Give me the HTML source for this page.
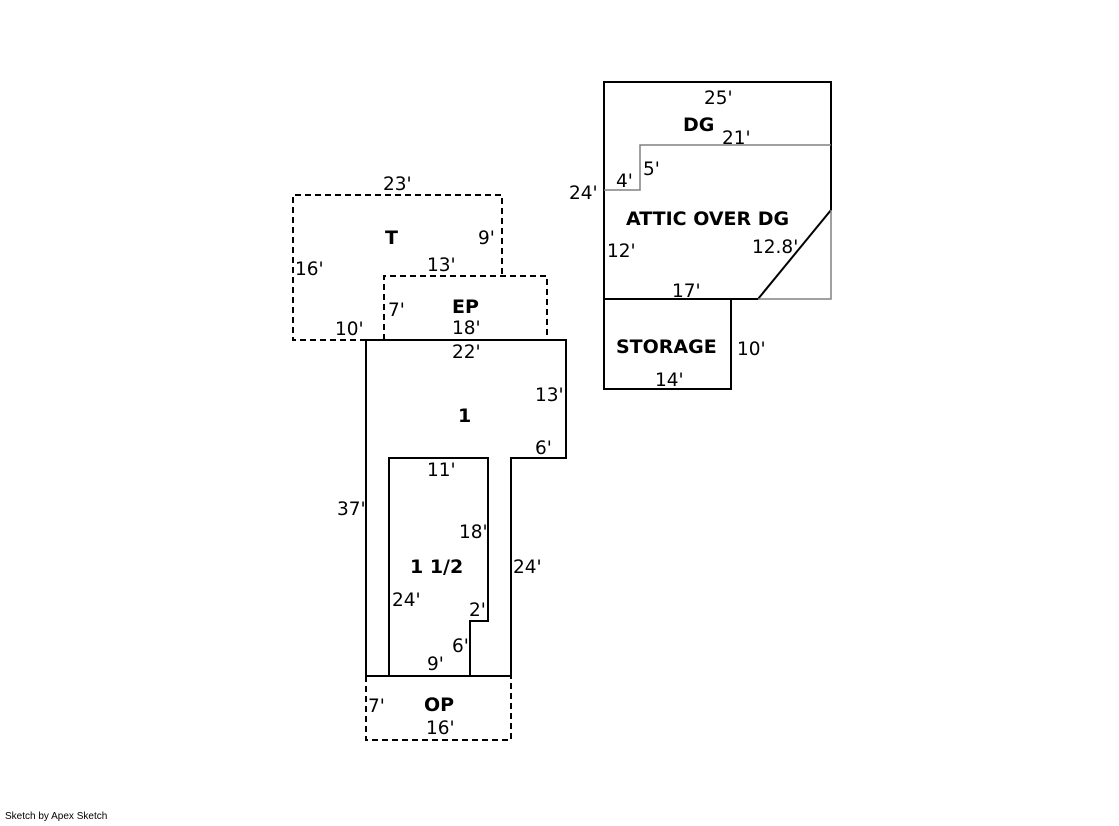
<!DOCTYPE html>
<html><head><style>
body{margin:0;background:#fff}
svg text{font-family:"DejaVu Sans",Verdana,sans-serif;font-size:18.5px;fill:#000}
svg text.b{font-weight:bold;font-size:19px}
</style></head><body>
<svg width="1119" height="821" xmlns="http://www.w3.org/2000/svg">
<g fill="none" stroke="#000" stroke-width="2">
<path d="M366 340H293V195H502V276" stroke-dasharray="6,4"/>
<path d="M384 340V276H547V340" stroke-dasharray="6,4"/>
<path d="M366 676V740H511V676" stroke-dasharray="6,4"/>
<path d="M366 340H566V458H511V676H366Z"/>
<path d="M389 676V458H488V621H470V676"/>
<path d="M604 299V82H831V210L758 299H604"/>
<path d="M604 299V389H731V299"/>
</g>
<g fill="none" stroke="#808080" stroke-width="1.5">
<path d="M604 190H640V145H831"/>
<path d="M831 210V299H758"/>
</g>
<text x="383" y="190">23'</text>
<text x="385" y="244" class="b">T</text>
<text x="478" y="244">9'</text>
<text x="295" y="275">16'</text>
<text x="427" y="271">13'</text>
<text x="335" y="335">10'</text>
<text x="388" y="316">7'</text>
<text x="452" y="313" class="b">EP</text>
<text x="452" y="334">18'</text>
<text x="452" y="358">22'</text>
<text x="535" y="401">13'</text>
<text x="458" y="422" class="b">1</text>
<text x="535" y="454">6'</text>
<text x="427" y="476">11'</text>
<text x="337" y="515">37'</text>
<text x="459" y="538">18'</text>
<text x="410" y="573" class="b">1 1/2</text>
<text x="513" y="573">24'</text>
<text x="392" y="606">24'</text>
<text x="469" y="616">2'</text>
<text x="452" y="652">6'</text>
<text x="427" y="670">9'</text>
<text x="368" y="712">7'</text>
<text x="424" y="711" class="b">OP</text>
<text x="426" y="734">16'</text>
<text x="704" y="104">25'</text>
<text x="683" y="131" class="b">DG</text>
<text x="722" y="144">21'</text>
<text x="643" y="175">5'</text>
<text x="616" y="187">4'</text>
<text x="569" y="199">24'</text>
<text x="626" y="225" class="b">ATTIC OVER DG</text>
<text x="752" y="253">12.8'</text>
<text x="607" y="257">12'</text>
<text x="672" y="297">17'</text>
<text x="616" y="353" class="b">STORAGE</text>
<text x="737" y="355">10'</text>
<text x="655" y="386">14'</text>
<text x="5" y="819" style="font-size:10px;font-family:'Liberation Sans',sans-serif">Sketch by Apex Sketch</text>
</svg>
</body></html>
